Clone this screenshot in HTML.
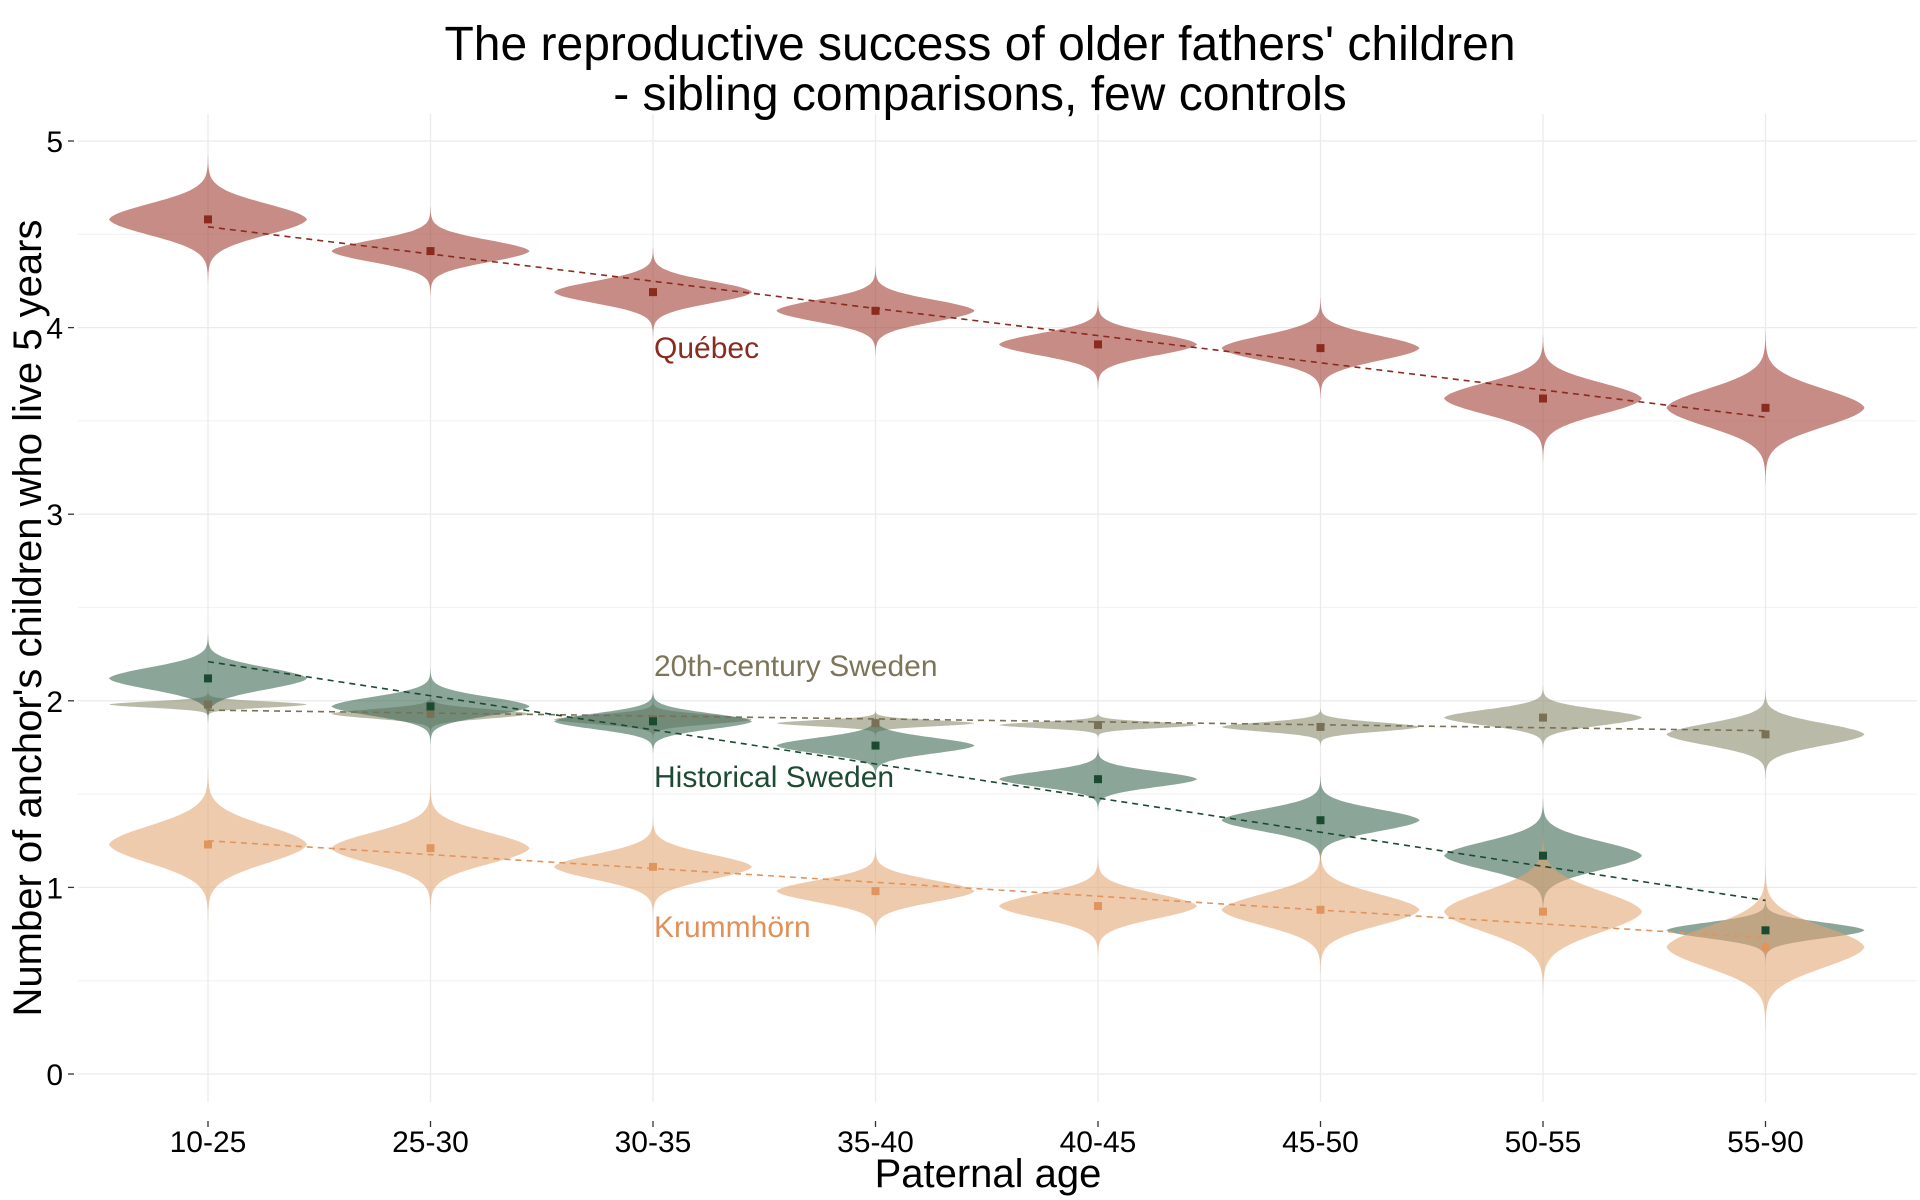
<!DOCTYPE html>
<html><head><meta charset="utf-8"><style>
html,body{margin:0;padding:0;background:#fff;}
svg{display:block;font-family:"Liberation Sans",sans-serif;}
</style></head><body>
<svg id="chart" width="1920" height="1200" viewBox="0 0 1920 1200">
<text x="980" y="60" text-anchor="middle" font-size="48">The reproductive success of older fathers' children</text>
<text x="980" y="110" text-anchor="middle" font-size="48">- sibling comparisons, few controls</text>
<text transform="translate(41,618) rotate(-90)" text-anchor="middle" font-size="40">Number of anchor's children who live 5 years</text>
<text x="988" y="1187" text-anchor="middle" font-size="40">Paternal age</text>
<g id="grid"></g><g id="marks"></g><g id="labels"></g>
</svg>
<script>
const categories = ["10-25","25-30","30-35","35-40","40-45","45-50","50-55","55-90"];
const yTicks = [0,1,2,3,4,5];
const seriesNames = ["Québec","20th-century Sweden","Historical Sweden","Krummhörn"];
const quebecMeans = [4.58,4.41,4.19,4.09,3.91,3.89,3.62,3.57];
const sweden20Means = [1.98,1.93,1.90,1.88,1.87,1.86,1.91,1.82];
const histSwedenMeans = [2.12,1.97,1.89,1.76,1.58,1.36,1.17,0.77];
const krummMeans = [1.23,1.21,1.11,0.98,0.90,0.88,0.87,0.68];
const quebecSpread = [0.10,0.07,0.07,0.07,0.07,0.08,0.10,0.12];
const sweden20Spread = [0.02,0.03,0.03,0.02,0.02,0.03,0.05,0.07];
const histSwedenSpread = [0.07,0.06,0.05,0.05,0.05,0.07,0.09,0.05];
const krummSpread = [0.12,0.10,0.08,0.07,0.08,0.10,0.13,0.13];
const quebecTrend = [4.54,3.52];
const sweden20Trend = [1.95,1.84];
const histSwedenTrend = [2.21,0.93];
const krummTrend = [1.25,0.73];

const NS="http://www.w3.org/2000/svg";
const X0=208, DX=222.5, Y0=1074, DY=186.6;
const xs=i=>X0+i*DX;
const ys=v=>Y0-v*DY;
function mk(tag,attrs,parent){const e=document.createElementNS(NS,tag);for(const k in attrs)e.setAttribute(k,attrs[k]);parent.appendChild(e);return e;}
const grid=document.getElementById('grid'),marks=document.getElementById('marks'),labels=document.getElementById('labels');

for(let v=0;v<=5;v+=0.5){
  const g=mk('line',{x1:78,x2:1917,y1:ys(v),y2:ys(v),stroke:v%1===0?'#ebebeb':'#f4f4f4','stroke-width':1.3},grid);
  
  
}
yTicks.forEach(t=>{
  const tk=mk('line',{x1:68,x2:74,y1:ys(t),y2:ys(t),stroke:'#333','stroke-width':1.3},grid);
  
  
  const tl=mk('text',{x:63,y:ys(t)+11,'text-anchor':'end','font-size':30},grid);
  tl.textContent=t;
  
  
});
categories.forEach((c,i)=>{
  const g=mk('line',{x1:xs(i),x2:xs(i),y1:114,y2:1102,stroke:'#ebebeb','stroke-width':1.3},grid);
  
  
  const tk=mk('line',{x1:xs(i),x2:xs(i),y1:1121,y2:1127,stroke:'#333','stroke-width':1.3},grid);
  
  
  const tl=mk('text',{x:xs(i),y:1152,'text-anchor':'middle','font-size':30},grid);
  tl.textContent=c;
  
  
});

const series=[
 {key:'quebec',means:quebecMeans,spread:quebecSpread,trend:quebecTrend,fill:'rgba(165,70,60,0.62)',pt:'#8b2a1e',label:'#8b2a1e',ly:358},
 {key:'sweden20',means:sweden20Means,spread:sweden20Spread,trend:sweden20Trend,fill:'rgba(150,150,125,0.66)',pt:'#7a7055',label:'#7d755a',ly:676},
 {key:'histsweden',means:histSwedenMeans,spread:histSwedenSpread,trend:histSwedenTrend,fill:'rgba(70,110,90,0.62)',pt:'#1a4a30',label:'#1e4a33',ly:787},
 {key:'krumm',means:krummMeans,spread:krummSpread,trend:krummTrend,fill:'rgba(228,165,115,0.58)',pt:'#e0955e',label:'#e0905a',ly:937}
];
const W=99;
series.forEach((s,si)=>{
  s.means.forEach((m,i)=>{
    const sd=s.spread[i]*0.85, cx=xs(i);
    let right=[],left=[];
    const N=100;
    for(let k=0;k<=N;k++){
      const u=-4+8*k/N;
      const w=W*(0.93*Math.exp(-0.5*u*u)+0.07*Math.exp(-Math.abs(u)*1.2));
      right.push([cx+w,ys(m+u*sd)]);
      left.push([cx-w,ys(m+u*sd)]);
    }
    const pts=right.concat(left.reverse());
    const d='M'+pts.map(p=>p[0].toFixed(1)+','+p[1].toFixed(1)).join('L')+'Z';
    const v=mk('path',{d:d,fill:s.fill},marks);
    
    
  });
});
series.forEach((s,si)=>{
  const n=categories.length-1;
  const ln=mk('line',{x1:xs(0),y1:ys(s.trend[0]),x2:xs(n),y2:ys(s.trend[1]),stroke:s.pt,'stroke-width':1.6,'stroke-dasharray':'6,5'},marks);
  
  
  s.means.forEach((m,i)=>{
    const r=mk('rect',{x:xs(i)-4,y:ys(m)-4,width:8,height:8,fill:s.pt},marks);
    
    
  });
  const lb=mk('text',{x:654,y:s.ly,'font-size':30,fill:s.label},labels);
  lb.textContent=seriesNames[si];
  
  
});
</script>
</body></html>
